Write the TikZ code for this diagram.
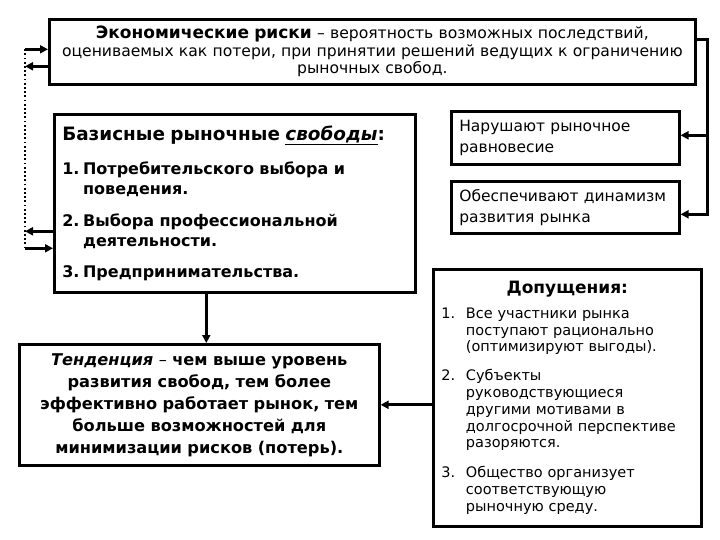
\documentclass[tikz,border=0pt]{standalone}
\usepackage{fontspec}
\setmainfont{DejaVu Sans}
\usetikzlibrary{arrows.meta}
\tikzset{box/.style={draw, line width=2.6pt, anchor=north west,
        inner xsep=8pt, inner ysep=3pt},
    conn/.style={line width=2.8pt},
    arr/.style={conn, -{Triangle[length=8pt,width=8pt]}},
    dots/.style={line width=2.4pt, dash pattern=on 1.8pt off 2.4pt},
    }
\newcommand{\numlab}[2][1.7em]{\makebox[#1][l]{#2}}
\newcommand{\hang}[1][1.7em]{\hspace*{#1}}

\begin{document}
\begin{tikzpicture}[x=1pt, y=-1pt]
\useasboundingbox (0,0) rectangle (720,540);

% boxes
\node[box, minimum width=646pt, minimum height=65pt, text width=638pt, inner xsep=4pt, align=center,
    font=\fontsize{15.6}{17.5}\selectfont] (risk) at (48,18)
    {{\bfseries\fontsize{17}{17.5}\selectfont Экономические риски} – вероятность возможных последствий,\\
     оцениваемых как потери, при принятии решений ведущих к ограничению\\
     рыночных свобод.};
\node[box, minimum width=361pt, minimum height=178pt, text width=345pt, align=left,
    font=\bfseries\fontsize{16}{20.5}\selectfont] (basis) at (53,113)
    {{\fontsize{18.4}{20}\selectfont Базисные рыночные \underline{\textit{свободы}}:}\\[13pt]
     \numlab[1.3em]{1.}Потребительского выбора и\\ \hang[1.3em]поведения.\\[11pt]
     \numlab[1.3em]{2.}Выбора профессиональной\\ \hang[1.3em]деятельности.\\[10pt]
     \numlab[1.3em]{3.}Предпринимательства.};
\node[box, minimum width=228pt, minimum height=53pt, text width=212pt, align=left,
    font=\fontsize{15.5}{21}\selectfont] (narush) at (450,110)
    {Нарушают рыночное\\ равновесие};
\node[box, minimum width=228pt, minimum height=52pt, text width=212pt, align=left,
    font=\fontsize{15.5}{21}\selectfont] (obesp) at (450,180)
    {Обеспечивают динамизм\\ развития рынка};
\node[box, minimum width=360pt, minimum height=121pt, text width=344pt, align=center,
    font=\bfseries\fontsize{16.2}{22}\selectfont] (tend) at (18,343)
    {\textit{Тенденция} {\mdseries –} чем выше уровень\\
     развития свобод, тем более\\
     эффективно работает рынок, тем\\
     больше возможностей для\\
     минимизации рисков (потерь).};
\node[box, minimum width=268pt, minimum height=257pt, text width=252pt, align=left,
    font=\fontsize{14.5}{16.8}\selectfont] (dop) at (432,268)
    {\makebox[\linewidth]{\bfseries\fontsize{17}{20}\selectfont Допущения:}\\[8pt]
     \numlab{1.}Все участники рынка\\ \hang поступают рационально\\ \hang (оптимизируют выгоды).\\[12pt]
     \numlab{2.}Субъекты\\ \hang руководствующиеся\\ \hang другими мотивами в\\
     \hang долгосрочной перспективе\\ \hang разоряются.\\[13pt]
     \numlab{3.}Общество организует\\ \hang соответствующую\\ \hang рыночную среду.};

% right bus
\coordinate (bus) at ([xshift=11pt]risk.east);
\coordinate (rout) at ([yshift=12pt]risk.east);
\draw[arr] (rout) -- (rout -| bus) |- ([yshift=-7pt]obesp.east);
\draw[arr] ([yshift=2.5pt]narush.east -| bus) -- ([yshift=2.5pt]narush.east);

% left dotted loop
\coordinate (dl) at (25,0);
\coordinate (rin) at ([yshift=2.5pt]risk.west);
\coordinate (rback) at ([yshift=-14.5pt]risk.west);
\coordinate (bback) at ([yshift=-28pt]basis.west);
\coordinate (bin) at ([yshift=-45pt]basis.west);
\draw[dots] (rin -| dl) -- (bin -| dl);
\draw[arr] (rin -| dl) -- (rin);
\draw[arr] (rback) -- (rback -| dl);
\draw[arr] (bback) -- (bback -| dl);
\draw[arr] (bin -| dl) -- (bin);

% down and across
\coordinate (bdown) at ([xshift=7pt]tend.north);
\draw[arr] (bdown |- basis.south) -- (bdown);
\draw[arr] (tend.east -| dop.west) -- (tend.east);
\end{tikzpicture}
\end{document}
